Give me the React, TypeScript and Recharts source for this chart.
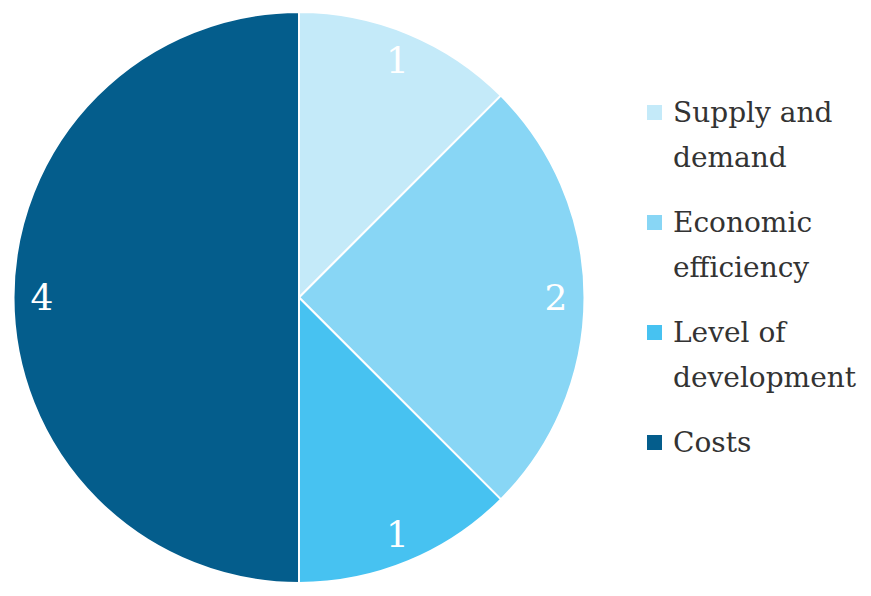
import React from 'react';
import { PieChart, Pie, Cell, Legend } from 'recharts';

const categories = ['Supply and\ndemand', 'Economic\nefficiency', 'Level of\ndevelopment', 'Costs'];
const counts = [1, 2, 1, 4];
const colors = ['#C4EAF9', '#88D6F5', '#47C2F1', '#045D8C'];

const data = categories.map((name, i) => ({ name, value: counts[i] }));

const RADIAN = Math.PI / 180;

const renderLabel = (props: any) => {
  const { cx, cy, midAngle, outerRadius, value } = props;
  const r = outerRadius * 0.9;
  const x = cx + r * Math.cos(-midAngle * RADIAN);
  const y = cy + r * Math.sin(-midAngle * RADIAN);
  return (
    <text
      x={x}
      y={y}
      fill="#ffffff"
      textAnchor="middle"
      dominantBaseline="central"
      fontFamily="DejaVu Serif"
      fontSize={36}
    >
      {value}
    </text>
  );
};

// legend drawn in the same order as the data (recharts sorts by name otherwise)
const renderLegend = () => (
  <div style={{ fontFamily: 'DejaVu Serif', fontSize: 28, color: '#333333' }}>
    {categories.map((name, i) => (
      <div key={name} style={{ display: 'flex', alignItems: 'flex-start', marginBottom: 20 }}>
        <div
          style={{
            width: 15,
            height: 15,
            background: colors[i],
            marginTop: 15,
            marginRight: 11,
            flexShrink: 0,
          }}
        />
        <div style={{ whiteSpace: 'pre-line', lineHeight: '45px' }}>{name}</div>
      </div>
    ))}
  </div>
);

const App: React.FC = () => {
  return (
    <div style={{ position: 'absolute', left: 0, top: 0, background: '#ffffff' }}>
      <PieChart width={871} height={596} margin={{ top: 0, right: 0, bottom: 0, left: 0 }}>
        <Pie
          data={data}
          dataKey="value"
          nameKey="name"
          cx={299}
          cy={297.5}
          outerRadius={285.5}
          startAngle={90}
          endAngle={-270}
          stroke="#ffffff"
          strokeWidth={2}
          label={renderLabel}
          labelLine={false}
          isAnimationActive={false}
        >
          {data.map((d, i) => (
            <Cell key={d.name} fill={colors[i]} />
          ))}
        </Pie>
        <Legend
          layout="vertical"
          content={renderLegend}
          wrapperStyle={{ position: 'absolute', left: 647, top: 90, width: 224 }}
        />
      </PieChart>
    </div>
  );
};

export default App;
